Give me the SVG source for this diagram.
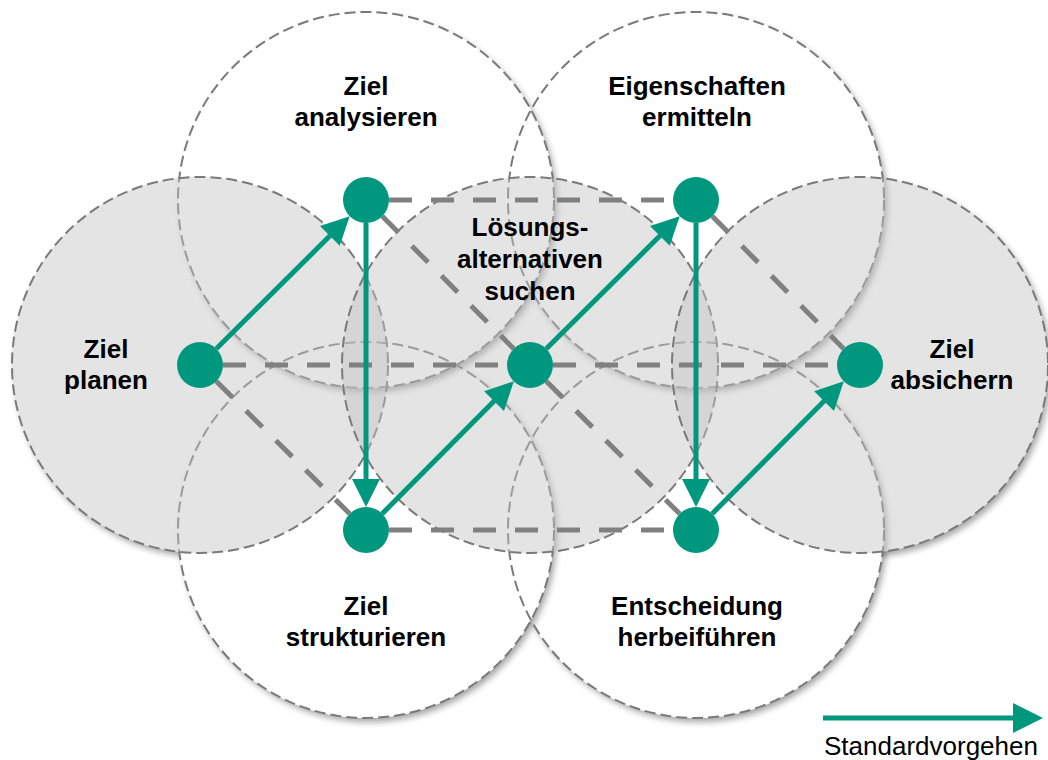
<svg xmlns="http://www.w3.org/2000/svg" width="1048" height="760" viewBox="0 0 1048 760">
  <style>
    .halo { fill: #ffffff; stroke: none; }
    .core { fill: #c4c4c4; fill-opacity: 0.45; stroke: none; }
    .rim { fill: none; stroke: #7a7a7a; stroke-width: 2; stroke-dasharray: 11 5; }
    .shade { fill: #000000; fill-opacity: 0.35; filter: url(#blur); }
    .link { fill: none; stroke: #808080; stroke-width: 5; stroke-dasharray: 23 19; }
    .flow { fill: none; stroke: #00977f; stroke-width: 5; marker-end: url(#head); }
    .node { fill: #00977f; }
    .label { font-family: "Liberation Sans", Arial, sans-serif; font-weight: bold; font-size: 26px; fill: #000000; text-anchor: middle; }
    .legend { font-family: "Liberation Sans", Arial, sans-serif; font-size: 26px; fill: #000000; }
  </style>
  <defs>
    <filter id="blur" x="-10%" y="-10%" width="120%" height="120%">
      <feGaussianBlur stdDeviation="3"/>
    </filter>
    <filter id="drop" x="-10%" y="-10%" width="120%" height="120%">
      <feDropShadow dx="3" dy="4" stdDeviation="3" flood-color="#000000" flood-opacity="0.35"/>
    </filter>
    <!-- keeps the grey-disc shadows outside the discs themselves -->
    <mask id="outside-discs" maskUnits="userSpaceOnUse" x="0" y="0" width="1048" height="760">
      <rect width="1048" height="760" fill="#ffffff"/>
      <circle cx="200" cy="365" r="188" fill="#000000"/>
      <circle cx="530" cy="365" r="188" fill="#000000"/>
      <circle cx="860" cy="365" r="188" fill="#000000"/>
    </mask>
    <marker id="head" markerUnits="userSpaceOnUse" markerWidth="28" markerHeight="28" refX="4" refY="14" orient="auto">
      <path d="M0,0 L28,14 L0,28 Z" fill="#00977f"/>
    </marker>
  </defs>

  <rect width="1048" height="760" fill="#ffffff"/>

  <!-- soft shadows of the three shaded discs -->
  <g id="disc-shadows" mask="url(#outside-discs)">
    <circle class="shade" cx="203" cy="369" r="188"/>
    <circle class="shade" cx="533" cy="369" r="188"/>
    <circle class="shade" cx="863" cy="369" r="188"/>
  </g>

  <!-- white activity discs -->
  <g id="disc-fills">
    <circle class="halo" cx="696" cy="530" r="188" filter="url(#drop)"/>
    <circle class="halo" cx="696" cy="200" r="188" filter="url(#drop)"/>
    <circle class="halo" cx="366" cy="530" r="188" filter="url(#drop)"/>
    <circle class="halo" cx="366" cy="200" r="188" filter="url(#drop)"/>
  </g>
  <g id="disc-rims">
    <circle class="rim" cx="696" cy="530" r="188"/>
    <circle class="rim" cx="696" cy="200" r="188"/>
    <circle class="rim" cx="366" cy="530" r="188"/>
    <circle class="rim" cx="366" cy="200" r="188"/>
  </g>

  <!-- translucent grey discs -->
  <g id="disc-plan">
    <circle class="core" cx="200" cy="365" r="188"/>
    <circle class="rim" cx="200" cy="365" r="188"/>
  </g>
  <g id="disc-search">
    <circle class="core" cx="530" cy="365" r="188"/>
    <circle class="rim" cx="530" cy="365" r="188"/>
  </g>
  <g id="disc-secure">
    <circle class="core" cx="860" cy="365" r="188"/>
    <circle class="rim" cx="860" cy="365" r="188"/>
  </g>

  <!-- connectors -->
  <g id="connectors">
    <line class="link" x1="389" y1="200" x2="673" y2="200"/>
    <line class="link" x1="389" y1="530" x2="673" y2="530"/>
    <line class="link" x1="223" y1="365" x2="507" y2="365"/>
    <line class="link" x1="553" y1="365" x2="837" y2="365"/>
    <line class="link" x1="216.3" y1="381.2" x2="349.7" y2="513.8"/>
    <line class="link" x1="382.3" y1="216.2" x2="513.7" y2="348.7"/>
    <line class="link" x1="546.3" y1="381.3" x2="679.7" y2="513.8"/>
    <line class="link" x1="712.3" y1="216.2" x2="843.7" y2="348.8"/>

    <line class="flow" x1="216.3" y1="348.8" x2="332.7" y2="233.1"/>
    <line class="flow" x1="366" y1="223" x2="366" y2="483"/>
    <line class="flow" x1="382.2" y1="513.7" x2="496.9" y2="398.3"/>
    <line class="flow" x1="546.3" y1="348.8" x2="662.7" y2="233.1"/>
    <line class="flow" x1="696" y1="223" x2="696" y2="483"/>
    <line class="flow" x1="712.2" y1="513.7" x2="826.9" y2="398.3"/>
  </g>

  <!-- process steps -->
  <g id="step-plan">
    <circle class="node" cx="200" cy="365" r="23"/>
    <text class="label" x="106" y="358">Ziel</text>
    <text class="label" x="106" y="389">planen</text>
  </g>
  <g id="step-analyse">
    <circle class="node" cx="366" cy="200" r="23"/>
    <text class="label" x="366" y="95">Ziel</text>
    <text class="label" x="366" y="126">analysieren</text>
  </g>
  <g id="step-structure">
    <circle class="node" cx="366" cy="530" r="23"/>
    <text class="label" x="366" y="615">Ziel</text>
    <text class="label" x="366" y="646">strukturieren</text>
  </g>
  <g id="step-search">
    <circle class="node" cx="530" cy="365" r="23"/>
    <text class="label" x="530" y="236">Lösungs-</text>
    <text class="label" x="530" y="268">alternativen</text>
    <text class="label" x="530" y="300">suchen</text>
  </g>
  <g id="step-properties">
    <circle class="node" cx="696" cy="200" r="23"/>
    <text class="label" x="697" y="95">Eigenschaften</text>
    <text class="label" x="697" y="126">ermitteln</text>
  </g>
  <g id="step-decide">
    <circle class="node" cx="696" cy="530" r="23"/>
    <text class="label" x="697" y="615">Entscheidung</text>
    <text class="label" x="697" y="646">herbeiführen</text>
  </g>
  <g id="step-secure">
    <circle class="node" cx="860" cy="365" r="23"/>
    <text class="label" x="952" y="358">Ziel</text>
    <text class="label" x="952" y="389">absichern</text>
  </g>

  <!-- legend -->
  <g id="legend">
    <line x1="823" y1="718" x2="1015" y2="718" stroke="#00977f" stroke-width="5"/>
    <polygon points="1013,703 1043,718 1013,733" fill="#00977f"/>
    <text class="legend" x="824" y="755">Standardvorgehen</text>
  </g>
</svg>
